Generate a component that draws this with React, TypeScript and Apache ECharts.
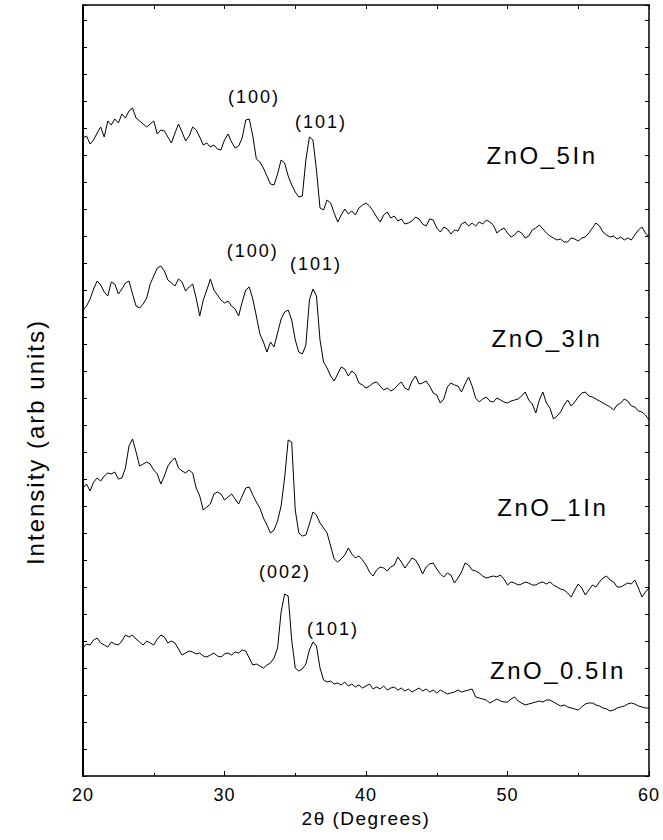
import React, { useEffect, useRef } from "react";
import * as echarts from "echarts";

// 2θ grid: first angle and step (degrees)
const START_ANGLE = 20;
const ANGLE_STEP = 0.25;

// Intensities (arb units), one value per 0.25° from 20° to 60°, four per degree
const zno5In = [
  638, 640, 632, 636, 643, 649, 639, 655, 651, 657, 653, 662, 658, 665, 668, 658,
  655, 652, 649, 652, 655, 642, 646, 645, 639, 633, 643, 652, 644, 635, 640, 649,
  646, 639, 631, 633, 629, 631, 627, 626, 636, 642, 634, 628, 630, 638, 656, 657,
  640, 617, 614, 608, 600, 592, 591, 602, 616, 613, 600, 591, 584, 579, 580, 616,
  639, 636, 606, 568, 566, 576, 573, 563, 554, 561, 567, 562, 565, 561, 568, 571,
  573, 570, 565, 559, 554, 561, 564, 558, 560, 555, 557, 552, 553, 555, 559, 557,
  552, 550, 557, 556, 548, 544, 549, 547, 542, 546, 545, 552, 554, 550, 553, 550,
  554, 552, 556, 554, 551, 543, 546, 548, 543, 539, 541, 545, 543, 538, 540, 546,
  548, 551, 547, 543, 540, 538, 536, 537, 534, 534, 538, 537, 535, 538, 539, 543,
  548, 553, 550, 544, 541, 539, 540, 537, 539, 536, 538, 536, 541, 546, 549, 543,
  539,
];

const zno3In = [
  466, 470, 477, 487, 495, 491, 484, 480, 494, 492, 482, 487, 493, 495, 482, 470,
  468, 472, 478, 492, 500, 508, 510, 505, 496, 493, 490, 497, 494, 485, 489, 492,
  478, 460, 476, 486, 497, 486, 481, 476, 473, 475, 470, 467, 460, 474, 486, 489,
  477, 460, 442, 434, 424, 434, 429, 443, 457, 464, 466, 456, 436, 424, 422, 431,
  476, 487, 480, 436, 414, 408, 400, 395, 402, 409, 407, 400, 405, 402, 393, 391,
  388, 390, 393, 394, 390, 386, 388, 385, 387, 391, 394, 388, 386, 395, 400, 392,
  393, 395, 390, 383, 381, 373, 377, 389, 393, 391, 390, 384, 392, 399, 390, 378,
  374, 377, 379, 375, 374, 378, 376, 374, 373, 375, 376, 377, 380, 384, 376, 372,
  363, 376, 384, 373, 368, 357, 360, 364, 371, 376, 370, 374, 379, 383, 384, 380,
  379, 377, 375, 373, 371, 369, 366, 371, 373, 377, 375, 370, 369, 365, 364, 361,
  356,
];

const zno1In = [
  288, 292, 285, 294, 298, 295, 300, 303, 302, 304, 297, 298, 308, 330, 337, 324,
  310, 312, 314, 312, 306, 302, 292, 300, 310, 315, 318, 308, 305, 303, 306, 303,
  288, 280, 266, 269, 272, 282, 284, 282, 276, 279, 282, 277, 272, 280, 288, 289,
  281, 274, 268, 258, 251, 243, 246, 255, 270, 298, 336, 334, 266, 243, 240, 241,
  252, 264, 261, 253, 248, 243, 230, 217, 214, 217, 221, 228, 222, 218, 220, 216,
  211, 204, 200, 206, 209, 208, 205, 209, 211, 219, 214, 208, 213, 218, 216, 210,
  202, 209, 212, 213, 207, 202, 199, 203, 201, 193, 198, 204, 213, 211, 206, 205,
  203, 200, 198, 199, 200, 199, 201, 197, 191, 194, 193, 191, 192, 194, 193, 191,
  191, 193, 194, 192, 194, 191, 189, 187, 186, 183, 179, 186, 192, 188, 181, 186,
  191, 189, 194, 198, 200, 196, 194, 189, 189, 191, 193, 192, 196, 188, 179, 184,
  188,
];

const zno05In = [
  128, 132, 131, 136, 138, 133, 131, 129, 134, 132, 131, 135, 141, 139, 141, 137,
  134, 131, 135, 133, 131, 137, 141, 139, 133, 135, 133, 127, 121, 123, 125, 124,
  122, 123, 120, 119, 121, 123, 120, 119, 122, 123, 121, 124, 123, 126, 125, 118,
  111, 112, 110, 108, 111, 113, 118, 128, 164, 182, 180, 136, 108, 105, 107, 112,
  126, 134, 130, 108, 96, 94, 95, 92, 93, 91, 94, 90, 92, 89, 91, 88,
  90, 92, 87, 89, 87, 90, 86, 88, 89, 86, 88, 85, 87, 84, 86, 88,
  85, 87, 84, 86, 83, 86, 84, 82, 83, 84, 86, 84, 85, 86, 87, 79,
  78, 77, 76, 73, 75, 77, 75, 74, 74, 77, 79, 75, 73, 71, 72, 73,
  74, 75, 74, 76, 76, 74, 72, 70, 71, 69, 68, 67, 66, 69, 72, 73,
  73, 71, 70, 68, 67, 65, 66, 68, 69, 70, 72, 73, 72, 70, 69, 68,
  68,
];

// Peak annotations: text, 2θ, intensity
const peakNames = ["(100)", "(101)", "(100)", "(101)", "(002)", "(101)"];
const peakAngles = [32.08, 36.82, 32.0, 36.47, 34.28, 37.67];
const peakLevels = [679, 654, 525, 512, 204, 147];

// Sample names: text, 2θ, intensity
const sampleNames = ["ZnO_5In", "ZnO_3In", "ZnO_1In", "ZnO_0.5In"];
const sampleAngles = [52.44, 52.79, 53.2, 53.57];
const sampleLevels = [621, 438, 269, 106];

const FONT = "'Liberation Sans', Arial, Helvetica, sans-serif";

function toSeriesData(values: number[]) {
  return values.map((v, i) => [START_ANGLE + i * ANGLE_STEP, v]);
}

export default function App() {
  const ref = useRef<HTMLDivElement>(null);

  useEffect(() => {
    const el = ref.current;
    if (!el) return;
    const chart = echarts.init(el, undefined, { renderer: "svg" });

    const lineSeries = (name: string, values: number[]) => ({
      name,
      type: "line",
      data: toSeriesData(values),
      showSymbol: false,
      symbol: "none",
      lineStyle: { color: "#000", width: 1 },
      silent: true,
    });

    const textSeries = (names: string[], xs: number[], ys: number[], size: number) => ({
      type: "scatter",
      symbol: "circle",
      symbolSize: 1,
      silent: true,
      itemStyle: { color: "rgba(255,255,255,0)", opacity: 1 },
      data: names.map((n, i) => ({ name: n, value: [xs[i], ys[i]] })),
      label: {
        show: true,
        position: "inside",
        formatter: "{b}",
        color: "#000",
        opacity: 1,
        textBorderWidth: 0,
        fontSize: size,
        fontFamily: FONT,
      },
      labelLayout: { hideOverlap: false },
    });

    const axisLineStyle = { color: "#000", width: 1.5 };

    chart.setOption({
      animation: false,
      backgroundColor: "#fff",
      grid: { left: 83, right: 14, top: 5, bottom: 64 },
      graphic: [
        {
          type: "text",
          x: 35,
          y: 442,
          rotation: Math.PI / 2,
          silent: true,
          style: {
            text: "Intensity (arb units)",
            fill: "#000",
            font: `24px ${FONT}`,
            textAlign: "center",
            textVerticalAlign: "middle",
          },
        },
      ],
      xAxis: [
        {
          type: "value",
          min: 20,
          max: 60,
          interval: 10,
          position: "bottom",
          axisLine: { onZero: false, lineStyle: axisLineStyle },
          axisTick: { inside: true, length: 5, lineStyle: { color: "#000" } },
          minorTick: { show: true, splitNumber: 2, length: 3, lineStyle: { color: "#000" } },
          splitLine: { show: false },
          axisLabel: { color: "#000", fontSize: 18, fontFamily: FONT, margin: 10 },
          name: "2θ (Degrees)",
          nameLocation: "middle",
          nameGap: 32,
          nameTextStyle: { color: "#000", fontSize: 19, fontFamily: FONT },
        },
        {
          type: "value",
          min: 20,
          max: 60,
          interval: 5,
          position: "top",
          axisLine: { onZero: false, lineStyle: axisLineStyle },
          axisTick: { inside: true, length: 4, lineStyle: { color: "#000" } },
          splitLine: { show: false },
          axisLabel: { show: false },
        },
      ],
      yAxis: [
        {
          type: "value",
          min: 0,
          max: 771,
          interval: 27,
          position: "left",
          axisLine: { show: true, onZero: false, lineStyle: { color: "#000", width: 2 } },
          axisTick: { show: true, inside: true, length: 4, lineStyle: { color: "#000" } },
          splitLine: { show: false },
          axisLabel: { show: false },
        },
        {
          type: "value",
          min: 0,
          max: 771,
          interval: 27,
          position: "right",
          axisLine: { show: true, onZero: false, lineStyle: axisLineStyle },
          axisTick: { show: true, inside: true, length: 4, lineStyle: { color: "#000" } },
          splitLine: { show: false },
          axisLabel: { show: false },
        },
      ],
      series: [
        lineSeries("ZnO_5In", zno5In),
        lineSeries("ZnO_3In", zno3In),
        lineSeries("ZnO_1In", zno1In),
        lineSeries("ZnO_0.5In", zno05In),
        textSeries(peakNames, peakAngles, peakLevels, 18),
        textSeries(sampleNames, sampleAngles, sampleLevels, 24),
      ],
    });

    const applySpacing = () => {
      el.querySelectorAll("text").forEach((t) => {
        const s = t.textContent || "";
        let ls = "1px";
        if (/^ZnO/.test(s)) ls = "2.5px";
        else if (/^\(\d+\)$/.test(s)) ls = "2px";
        else if (/Intensity/.test(s)) ls = "2px";
        else if (/Degrees/.test(s)) ls = "1.5px";
        (t as SVGTextElement).style.letterSpacing = ls;
        (t as SVGTextElement).style.opacity = "1";
      });
    };
    applySpacing();
    chart.on("finished", applySpacing);

    return () => {
      chart.dispose();
    };
  }, []);

  return (
    <div
      ref={ref}
      style={{ position: "absolute", left: 0, top: 0, width: 663, height: 840, background: "#fff" }}
    />
  );
}
